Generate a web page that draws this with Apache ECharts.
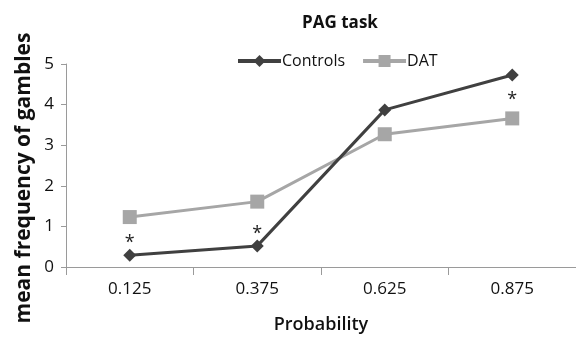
<!DOCTYPE html>
<html><head><meta charset="utf-8">
<script src="https://cdn.jsdelivr.net/npm/echarts@6/dist/echarts.min.js"></script>
<style>html,body{margin:0;padding:0;background:#fff}#c{width:576px;height:339px}</style>
</head><body><div id="c"></div>
<script>
const categories = ['0.125', '0.375', '0.625', '0.875'];
const controls = [0.29, 0.52, 3.87, 4.73];
const dat = [1.23, 1.61, 3.27, 3.66];
const controlsSig = [true, true, false, false];
const datSig = [false, false, false, true];
const yTicks = [0, 1, 2, 3, 4, 5];
const yName = 'mean frequency of gambles';

const FONT = '"Open Sans", "Liberation Sans", sans-serif';
function withStars(vals, sig, offset) {
  return vals.map((v, i) => sig[i] ? {value: v, label: {show: true, formatter: '*', position: 'top', distance: offset, fontSize: 18, color: '#222', fontFamily: FONT}} : v);
}
const chart = echarts.init(document.getElementById('c'));
chart.setOption({
  animation: false,
  title: {text: 'PAG task', left: 335, top: 10, textAlign: 'center',
    textStyle: {fontSize: 17, fontWeight: 'bold', color: '#111', fontFamily: FONT}},
  legend: {top: 48, left: 231, itemWidth: 43, itemHeight: 15, itemGap: 16,
    lineStyle: {width: 4},
    textStyle: {fontSize: 16, color: '#111', fontFamily: FONT, padding: [0, 0, 0, -4]},
    data: ['Controls', 'DAT']},
  grid: {left: 66, top: 64, width: 520, height: 205},
  graphic: [{type: 'text', x: 24, y: 178, rotation: Math.PI / 2,
    style: {text: yName, align: 'center', verticalAlign: 'middle', fontSize: 21, fontWeight: 'bold', fill: '#111', fontFamily: FONT}}],
  xAxis: {type: 'category', data: categories, boundaryGap: true,
    name: 'Probability', nameLocation: 'middle', nameGap: 49,
    nameTextStyle: {fontSize: 18, fontWeight: 600, color: '#111', fontFamily: FONT},
    axisLine: {lineStyle: {color: '#9a9a9a', width: 1}},
    axisTick: {show: true, length: 8, lineStyle: {color: '#9a9a9a'}},
    axisLabel: {fontSize: 17, color: '#111', margin: 14, fontFamily: FONT}},
  yAxis: {type: 'value', min: yTicks[0], max: yTicks[yTicks.length - 1], interval: 1,
    axisLine: {show: true, lineStyle: {color: '#9a9a9a', width: 1}},
    axisTick: {show: true, length: 5, lineStyle: {color: '#9a9a9a'}},
    splitLine: {show: false},
    axisLabel: {fontSize: 17, color: '#111', margin: 12, fontFamily: FONT}},
  series: [
    {name: 'Controls', type: 'line', data: withStars(controls, controlsSig, -3),
      symbol: 'diamond', symbolSize: 13, z: 3,
      lineStyle: {color: '#404040', width: 3}, itemStyle: {color: '#404040'}},
    {name: 'DAT', type: 'line', data: withStars(dat, datSig, 3),
      symbol: 'rect', symbolSize: 14, z: 2,
      lineStyle: {color: '#a6a6a6', width: 3}, itemStyle: {color: '#a6a6a6'}}
  ]
});
</script></body></html>
